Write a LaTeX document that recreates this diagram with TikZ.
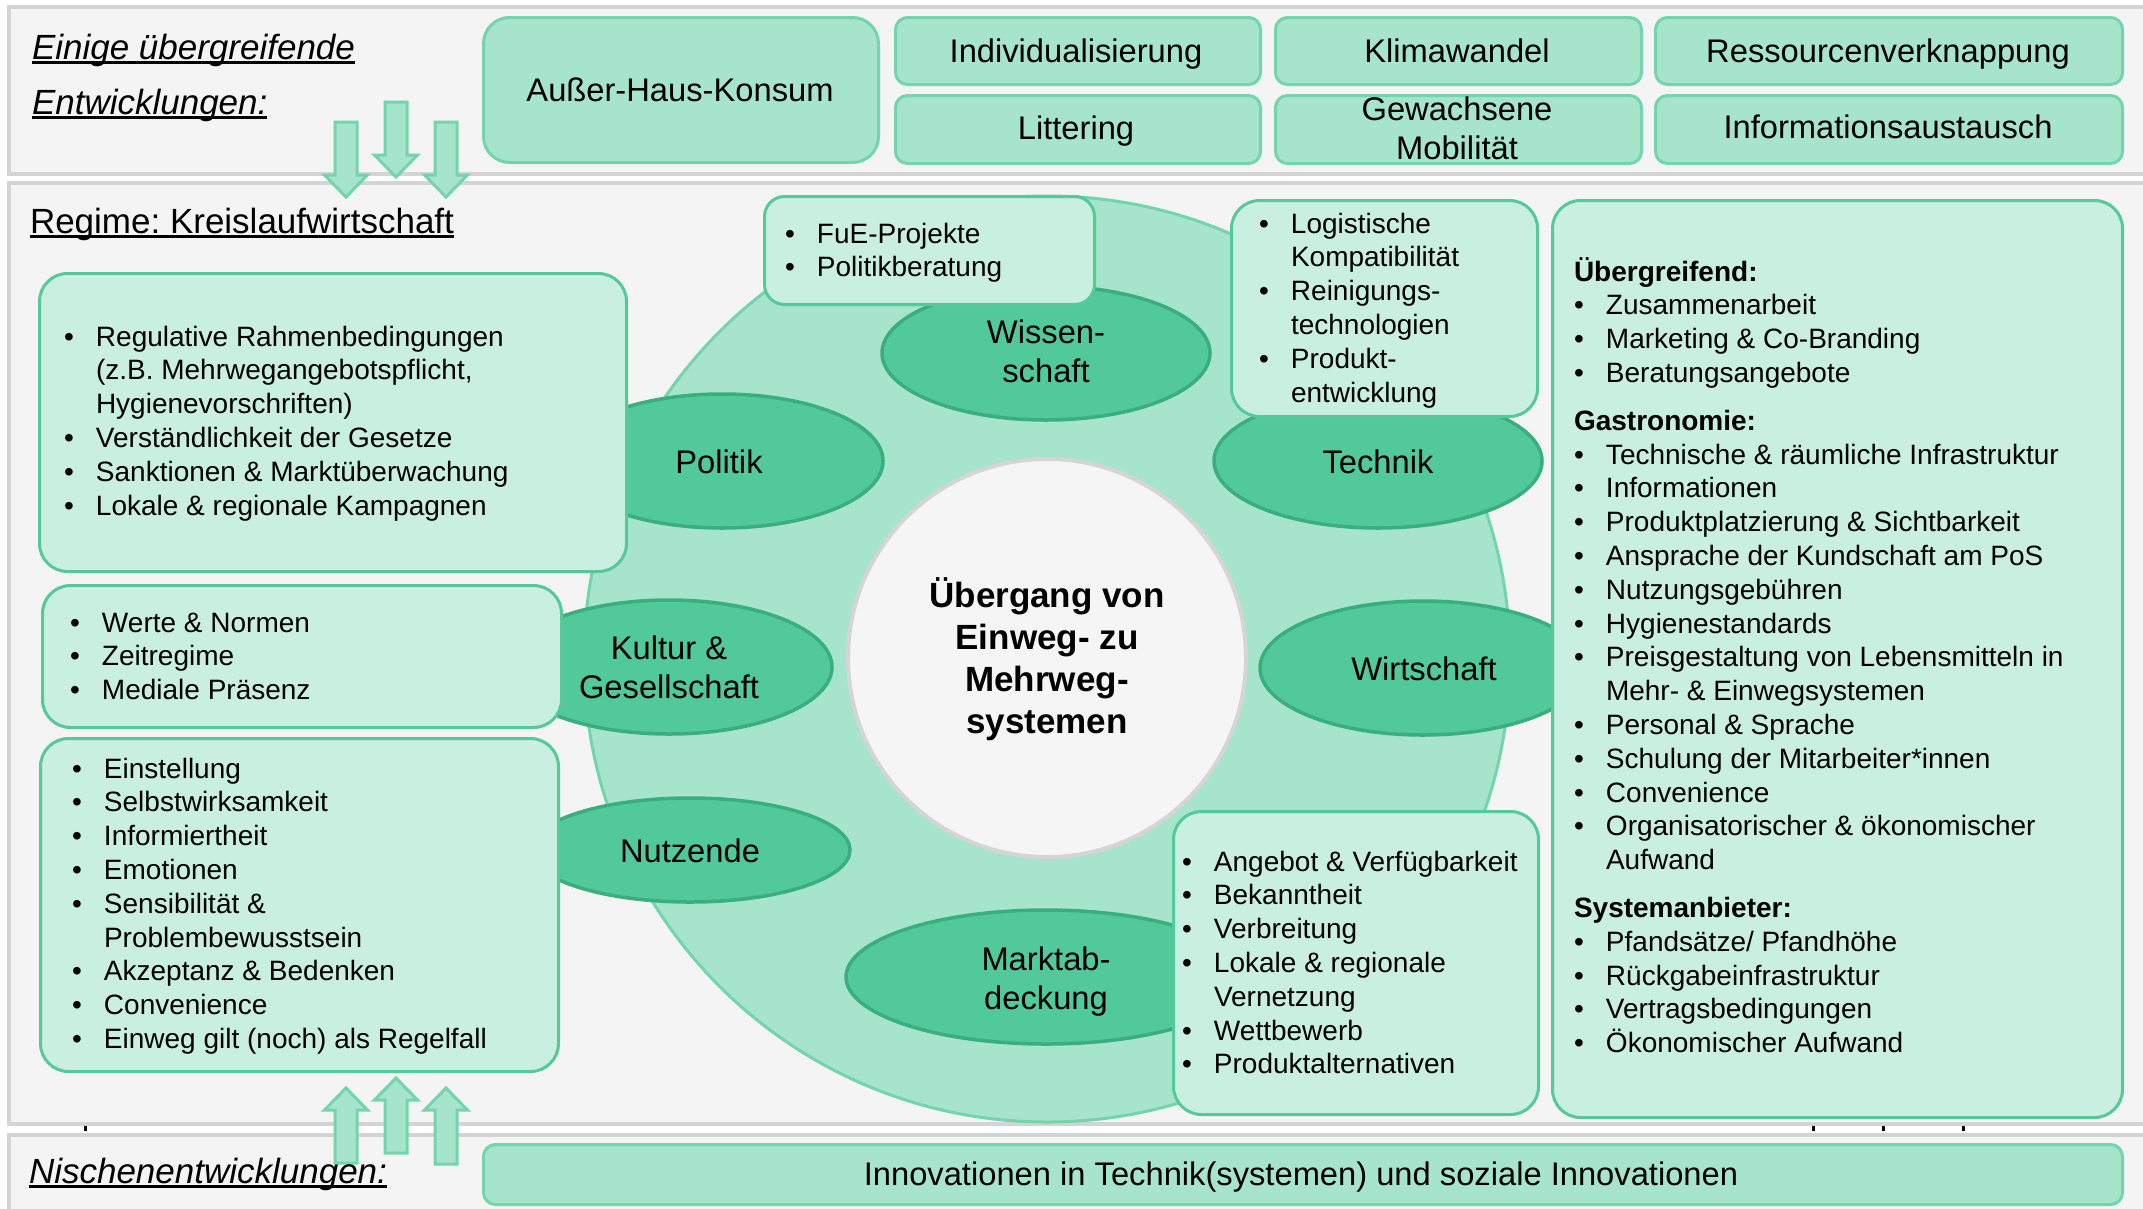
\documentclass[tikz,border=0pt]{standalone}
\usepackage{fontspec}
\setmainfont{Liberation Sans}
\usetikzlibrary{shapes.geometric}
\definecolor{pfill}{HTML}{F4F4F4}
\definecolor{pgray}{HTML}{D4D4D4}
\definecolor{mfill}{HTML}{A6E5CC}
\definecolor{mborder}{HTML}{74D4AB}
\definecolor{efill}{HTML}{52C99A}
\definecolor{eborder}{HTML}{3BAE7F}
\definecolor{lfill}{HTML}{C8EFDF}
\definecolor{lborder}{HTML}{56C99A}
\definecolor{cfill}{HTML}{F5F5F5}
\definecolor{cborder}{HTML}{D5D5D5}
\frenchspacing
\newsavebox\ulbox
\newcommand\myul[1]{\sbox\ulbox{#1}\rlap{\rule[-5pt]{\wd\ulbox}{3pt}}\usebox\ulbox}
\newcommand\fsA{\fontsize{32.7}{39}\selectfont}
\newcommand\fsL{\fontsize{28}{33.8}\selectfont}
\newcommand\fsH{\fontsize{35}{42}\selectfont}
\newcommand\fsC{\fontsize{35}{42.3}\selectfont\bfseries}
\newlength\bw \setlength\bw{32pt}
\newcommand\B{\makebox[\bw][l]{\textbullet}}
\newcommand\I{\hspace*{\bw}}
\newcommand\lst[1]{\vtop{\lineskiplimit=-1000pt\lineskip=0pt\halign{##\hfil\cr#1\crcr}}}
\newcommand\clst[1]{\vtop{\lineskiplimit=-1000pt\lineskip=0pt\halign{\hfil##\hfil\cr#1\crcr}}}
\newcommand\boxat[6]{\node[#1, anchor=north west, minimum width={#5-#3}, minimum height={#6-#4}] (#2) at (#3,#4) {};}
\begin{document}
\begin{tikzpicture}[x=1pt,y=-1pt,
  panel/.style={rectangle, draw=pgray, fill=pfill, line width=4pt, inner sep=0},
  topbox/.style={rectangle, draw=mborder, fill=mfill, line width=3pt, rounded corners=12pt, inner sep=0},
  bigtop/.style={topbox, rounded corners=26pt},
  lbox/.style={rectangle, draw=lborder, fill=lfill, line width=3pt, rounded corners=28pt, inner sep=0},
  sbox/.style={lbox, rounded corners=20pt},
  ell/.style={ellipse, draw=eborder, fill=efill, line width=3.5pt, inner sep=0},
  lab/.style={inner sep=0, outer sep=0, anchor=base},
  labw/.style={inner sep=0, outer sep=0, anchor=base west},
  blockarrow/.style={draw=mborder, fill=mfill, line width=3pt, line join=miter},
  tick/.style={fill=black}
]
\fill[white] (0,0) rectangle (2143,1208);
\useasboundingbox (0,0) rectangle (2143,1208);

% panels
\boxat{panel}{toppanel}{7}{5}{2175}{172}
\boxat{panel}{regpanel}{7}{181}{2175}{1122}
\boxat{panel}{nichepanel}{7}{1133}{2175}{1260}

% top boxes
\boxat{bigtop}{haus}{482}{16}{877}{161}
\boxat{topbox}{indiv}{894}{16}{1259}{83}
\boxat{topbox}{litter}{894}{94}{1259}{162}
\boxat{topbox}{klima}{1274}{16}{1640}{83}
\boxat{topbox}{mobil}{1274}{94}{1640}{162}
\boxat{topbox}{ressource}{1654}{16}{2121}{83}
\boxat{topbox}{info}{1654}{94}{2121}{162}
\node[lab, font=\fsA] (hausT) at (680,101) {Außer-Haus-Konsum};
\node[lab, font=\fsA] (indivT) at (1076,62) {Individualisierung};
\node[lab, font=\fsA] (litterT) at (1076,139) {Littering};
\node[lab, font=\fsA] (klimaT) at (1457,62) {Klimawandel};
\node[lab, font=\fsA] (mobilT) at (1457,120) {\clst{Gewachsene\cr Mobilität}};
\node[lab, font=\fsA] (ressourceT) at (1888,62) {Ressourcenverknappung};
\node[lab, font=\fsA] (infoT) at (1888,138) {Informationsaustausch};

% ring and centre
\node[circle, draw=mborder, fill=mfill, line width=3pt, inner sep=0, minimum size=926] (ring) at (1047,659) {};
\node[circle, draw=cborder, fill=cfill, line width=4pt, inner sep=0, minimum size=398] (kern) at (1047,658) {};
\node[lab, font=\fsC] (kernT) at (1047,607) {\clst{Übergang von\cr Einweg- zu\cr Mehrweg-\cr systemen}};

% ellipses
\node[ell, minimum width=328, minimum height=134] (wiss) at (1046,353) {};
\node[ell, minimum width=322, minimum height=134] (pol) at (722,461) {};
\node[ell, minimum width=328, minimum height=134] (tech) at (1378,461) {};
\node[ell, minimum width=326, minimum height=134] (kult) at (669,667) {};
\node[ell, minimum width=326, minimum height=134] (wirt) at (1423,668) {};
\node[ell, minimum width=320, minimum height=104] (nutz) at (690,850) {};
\node[ell, minimum width=400, minimum height=134] (markt) at (1046,977) {};
\node[lab, font=\fsA] (wissT) at (1046,343) {\clst{Wissen-\cr schaft}};
\node[lab, font=\fsA] (polT) at (719,473) {Politik};
\node[lab, font=\fsA] (techT) at (1378,473) {Technik};
\node[lab, font=\fsA] (kultT) at (669,659) {\clst{Kultur \&\cr Gesellschaft}};
\node[lab, font=\fsA] (wirtT) at (1424,680) {Wirtschaft};
\node[lab, font=\fsA] (nutzT) at (690,862) {Nutzende};
\node[lab, font=\fsA] (marktT) at (1046,970) {\clst{Marktab-\cr deckung}};

% list boxes
\boxat{sbox}{fueBox}{763}{195}{1093}{303}
\boxat{lbox}{techBox}{1230}{199}{1536}{415}
\boxat{lbox}{polBox}{38}{272}{625}{570}
\boxat{lbox}{kultBox}{41}{584}{560}{726}
\boxat{lbox}{nutzBox}{39}{737}{557}{1070}
\boxat{lbox}{marktBox}{1172}{810}{1537}{1113}
\boxat{lbox}{rightBox}{1551}{199}{2121}{1116}

\node[labw, font=\fsL] (fueT) at (785,243) {\lst{\B FuE-Projekte\cr \B Politikberatung}};
\node[labw, font=\fsL] (techL) at (1259,233) {\lst{\B Logistische\cr \I Kompatibilität\cr \B Reinigungs-\cr \I technologien\cr \B Produkt-\cr \I entwicklung}};
\node[labw, font=\fsL] (polL) at (64,346) {\lst{\B Regulative Rahmenbedingungen\cr \I (z.B. Mehrwegangebotspflicht,\cr \I Hygienevorschriften)\cr \B Verständlichkeit der Gesetze\cr \B Sanktionen \& Marktüberwachung\cr \B Lokale \& regionale Kampagnen}};
\node[labw, font=\fsL] (kultL) at (70,632) {\lst{\B Werte \& Normen\cr \B Zeitregime\cr \B Mediale Präsenz}};
\node[labw, font=\fsL] (nutzL) at (72,778) {\lst{\B Einstellung\cr \B Selbstwirksamkeit\cr \B Informiertheit\cr \B Emotionen\cr \B Sensibilität \&\cr \I Problembewusstsein\cr \B Akzeptanz \& Bedenken\cr \B Convenience\cr \B Einweg gilt (noch) als Regelfall}};
\node[labw, font=\fsL] (marktL) at (1182,871) {\lst{\B Angebot \& Verfügbarkeit\cr \B Bekanntheit\cr \B Verbreitung\cr \B Lokale \& regionale\cr \I Vernetzung\cr \B Wettbewerb\cr \B Produktalternativen}};
\node[labw, font=\fsL] (rightL) at (1574,281) {\lst{\textbf{Übergreifend:}\cr
\B Zusammenarbeit\cr
\B Marketing \& Co-Branding\cr
\B Beratungsangebote\cr
\noalign{\vskip14pt}
\textbf{Gastronomie:}\cr
\B Technische \& räumliche Infrastruktur\cr
\B Informationen\cr
\B Produktplatzierung \& Sichtbarkeit\cr
\B Ansprache der Kundschaft am PoS\cr
\B Nutzungsgebühren\cr
\B Hygienestandards\cr
\B Preisgestaltung von Lebensmitteln in\cr
\I Mehr- \& Einwegsystemen\cr
\B Personal \& Sprache\cr
\B Schulung der Mitarbeiter*innen\cr
\B Convenience\cr
\B Organisatorischer \& ökonomischer\cr
\I Aufwand\cr
\noalign{\vskip14pt}
\textbf{Systemanbieter:}\cr
\B Pfandsätze/ Pfandhöhe\cr
\B Rückgabeinfrastruktur\cr
\B Vertragsbedingungen\cr
\B Ökonomischer Aufwand}};

% niche box
\boxat{topbox}{nicheBox}{482}{1143}{2121}{1203}
\node[lab, font=\fsA] (nicheT) at (1301,1185) {Innovationen in Technik(systemen) und soziale Innovationen};

% block arrows down
\foreach \cx/\yt/\yb/\yp in {346/122/175/197, 396/102/155/177, 446/122/175/197}{
  \draw[blockarrow] (\cx-11,\yt) -- (\cx+11,\yt) -- (\cx+11,\yb) -- (\cx+21.5,\yb) -- (\cx,\yp) -- (\cx-21.5,\yb) -- (\cx-11,\yb) -- cycle;
}
% block arrows up
\foreach \cx/\yt/\yb/\yp in {346/1163/1110/1088, 396/1153/1100/1078, 446/1164/1110/1088}{
  \draw[blockarrow] (\cx-11,\yt) -- (\cx+11,\yt) -- (\cx+11,\yb) -- (\cx+21.5,\yb) -- (\cx,\yp) -- (\cx-21.5,\yb) -- (\cx-11,\yb) -- cycle;
}

% small ticks
\foreach \tx in {84,1812,1882,1962}{
  \fill[tick] (\tx,1126) rectangle (\tx+2.5,1131);
}

% titles
\node[labw, font=\fsH\itshape] (t1) at (32,59) {\myul{Einige übergreifende}};
\node[labw, font=\fsH\itshape] (t2) at (32,114) {\myul{Entwicklungen:}};
\node[labw, font=\fsH] (t3) at (30,233) {\myul{Regime: Kreislaufwirtschaft}};
\node[labw, font=\fsH\itshape] (t4) at (29,1183) {\myul{Nischenentwicklungen:}};
\end{tikzpicture}
\end{document}
